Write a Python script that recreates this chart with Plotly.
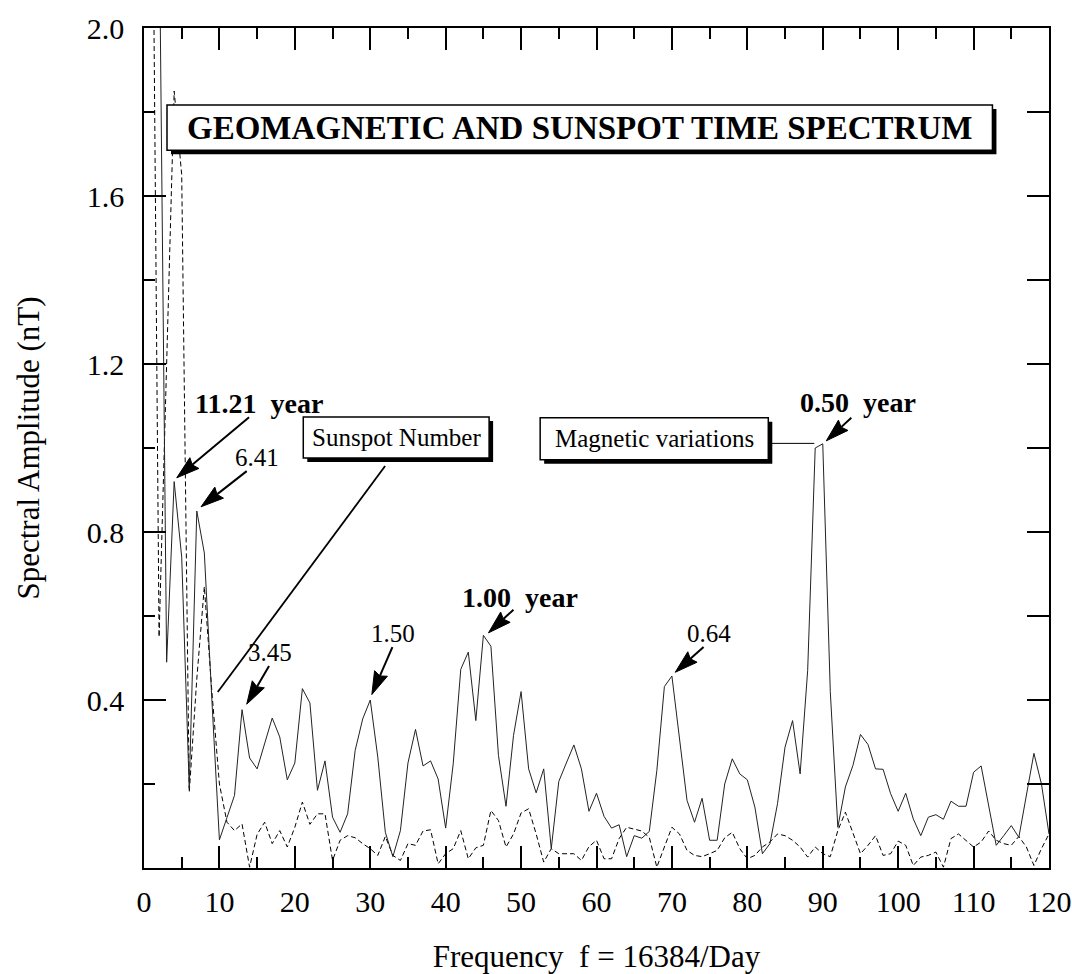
import math
import plotly.graph_objects as go

# Frequency index (f = 16384 / period in days)
freq = list(range(1, 121))

# Spectral amplitude of the magnetic variations (nT)
magnetic = [
    2.60, 2.30, 0.49, 0.92, 0.74, 0.19, 0.85, 0.75, 0.40, 0.067,
    0.12, 0.173, 0.377, 0.262, 0.236, 0.296, 0.357, 0.312, 0.21, 0.25,
    0.427, 0.393, 0.185, 0.255, 0.121, 0.085, 0.129, 0.28, 0.355, 0.40,
    0.264, 0.085, 0.027, 0.089, 0.25, 0.33, 0.243, 0.255, 0.212, 0.095,
    0.248, 0.473, 0.514, 0.351, 0.554, 0.528, 0.268, 0.147, 0.316, 0.42,
    0.236, 0.179, 0.236, 0.046, 0.206, 0.25, 0.293, 0.236, 0.135, 0.178,
    0.123, 0.095, 0.103, 0.027, 0.077, 0.071, 0.087, 0.232, 0.432, 0.457,
    0.312, 0.161, 0.109, 0.166, 0.066, 0.066, 0.20, 0.26, 0.224, 0.21,
    0.145, 0.034, 0.058, 0.153, 0.288, 0.351, 0.224, 0.47, 1.00, 1.01,
    0.42, 0.097, 0.193, 0.244, 0.318, 0.294, 0.236, 0.235, 0.177, 0.135,
    0.178, 0.117, 0.077, 0.121, 0.127, 0.116, 0.159, 0.147, 0.147, 0.228,
    0.243, 0.147, 0.054, 0.077, 0.101, 0.073, 0.177, 0.273, 0.20, 0.081,
]

# Spectral amplitude of the sunspot number (scaled)
sunspot = [
    2.70, 0.55, 1.20, 1.85, 1.65, 0.18, 0.45, 0.67, 0.42, 0.20,
    0.109, 0.089, 0.105, 0.002, 0.08, 0.109, 0.058, 0.089, 0.05, 0.097,
    0.157, 0.104, 0.129, 0.129, 0.018, 0.066, 0.077, 0.072, 0.058, 0.046,
    0.03, 0.075, 0.03, 0.018, 0.058, 0.054, 0.088, 0.091, 0.01, 0.034,
    0.046, 0.089, 0.022, 0.048, 0.054, 0.137, 0.113, 0.05, 0.081, 0.131,
    0.141, 0.081, 0.014, 0.046, 0.034, 0.034, 0.034, 0.018, 0.051, 0.066,
    0.022, 0.022, 0.07, 0.097, 0.093, 0.088, 0.073, 0.002, 0.05, 0.097,
    0.081, 0.042, 0.03, 0.027, 0.034, 0.042, 0.072, 0.085, 0.046, 0.022,
    0.03, 0.05, 0.062, 0.081, 0.077, 0.066, 0.05, 0.026, 0.05, 0.034,
    0.027, 0.089, 0.133, 0.081, 0.034, 0.054, 0.077, 0.03, 0.034, 0.064,
    0.054, 0.006, 0.026, 0.03, 0.038, 0.002, 0.07, 0.081, 0.066, 0.05,
    0.062, 0.088, 0.066, 0.058, 0.054, 0.075, 0.05, 0.006, 0.046, 0.081,
]

x_ticks = list(range(0, 121, 10))
y_ticks = [0.4, 0.8, 1.2, 1.6, 2.0]
y_ticktext = ["0.4", "0.8", "1.2", "1.6", "2.0"]

FONT = "Liberation Serif, Times New Roman, serif"
W, H = 1072, 974
M_L, M_R, M_T, M_B = 144, 23, 28, 106
X_RANGE = (0, 120)
Y_RANGE = (0, 2.0)
SX = (W - M_L - M_R) / (X_RANGE[1] - X_RANGE[0])   # px per frequency unit
SY = (H - M_T - M_B) / (Y_RANGE[1] - Y_RANGE[0])   # px per nT

fig = go.Figure()

fig.add_trace(go.Scatter(
    x=freq, y=sunspot, mode="lines", name="Sunspot Number",
    line=dict(color="black", width=1, dash="5px,3px"),
))
fig.add_trace(go.Scatter(
    x=freq, y=magnetic, mode="lines", name="Magnetic variations",
    line=dict(color="#222222", width=1),
))
# empty trace so the mirrored top/right axes get drawn
fig.add_trace(go.Scatter(x=[], y=[], xaxis="x2", yaxis="y2", showlegend=False))

shapes = []
annotations = []


def add_arrow(tail, tip, head_len=23, head_half=7):
    """Shaft plus a filled arrowhead, built in pixel space and mapped to data units."""
    tx, ty = tail[0] * SX, tail[1] * SY
    px, py = tip[0] * SX, tip[1] * SY
    dx, dy = px - tx, py - ty
    n = math.hypot(dx, dy)
    ux, uy = dx / n, dy / n
    vx, vy = -uy, ux
    bx, by = px - ux * head_len, py - uy * head_len
    ix, iy = px - ux * head_len * 0.88, py - uy * head_len * 0.88
    pts = [
        (px, py),
        (bx + vx * head_half, by + vy * head_half),
        (ix, iy),
        (bx - vx * head_half, by - vy * head_half),
    ]
    path = "M " + " L ".join(f"{a / SX:.4f},{b / SY:.5f}" for a, b in pts) + " Z"
    shapes.append(dict(type="line", xref="x", yref="y",
                       x0=tail[0], y0=tail[1], x1=ix / SX, y1=iy / SY,
                       line=dict(color="black", width=2)))
    shapes.append(dict(type="path", xref="x", yref="y", path=path,
                       fillcolor="black", line=dict(color="black", width=1)))


def add_box(x0, x1, y0, y1, text, size, bold=False, shadow_px=4):
    sdx, sdy = shadow_px / SX, shadow_px / SY
    shapes.append(dict(type="rect", xref="x", yref="y",
                       x0=x0 + sdx, x1=x1 + sdx, y0=y0 - sdy, y1=y1 - sdy,
                       fillcolor="black", line=dict(width=0)))
    shapes.append(dict(type="rect", xref="x", yref="y",
                       x0=x0, x1=x1, y0=y0, y1=y1,
                       fillcolor="white", line=dict(color="black", width=1.5)))
    label = f"<b>{text}</b>" if bold else text
    annotations.append(dict(x=(x0 + x1) / 2, y=(y0 + y1) / 2, xref="x", yref="y",
                            text=label, showarrow=False,
                            font=dict(family=FONT, size=size, color="black")))


def add_label(x, y, text, size, bold=False):
    label = f"<b>{text}</b>" if bold else text
    annotations.append(dict(x=x, y=y, xref="x", yref="y", text=label, showarrow=False,
                            font=dict(family=FONT, size=size, color="black")))


# title box
add_box(3.05, 112.5, 1.709, 1.8165, "GEOMAGNETIC AND SUNSPOT TIME SPECTRUM", 33, bold=True)

# legend boxes and their leader lines
add_box(21.12, 45.76, 0.976, 1.074, "Sunspot Number", 25)
shapes.append(dict(type="line", xref="x", yref="y", x0=31.97, y0=0.957, x1=9.78, y1=0.419,
                   line=dict(color="black", width=1.8)))
add_box(52.53, 82.78, 0.972, 1.072, "Magnetic variations", 25)
shapes.append(dict(type="line", xref="x", yref="y", x0=82.78, y0=1.011, x1=88.88, y1=1.011,
                   line=dict(color="black", width=1)))

# period labels (years) with arrows
add_label(15.26, 1.107, "11.21&nbsp;&nbsp;year", 28, bold=True)
add_arrow((13.93, 1.073), (4.34, 0.929))
add_label(14.99, 0.978, "6.41", 25)
add_arrow((13.62, 0.945), (7.56, 0.860))
add_label(16.72, 0.513, "3.45", 25)
add_arrow((16.58, 0.481), (13.62, 0.390))
add_label(33.03, 0.559, "1.50", 25)
add_arrow((32.94, 0.526), (30.21, 0.413))
add_label(49.88, 0.644, "1.00&nbsp;&nbsp;year", 28, bold=True)
add_arrow((48.99, 0.615), (45.68, 0.560))
add_label(74.95, 0.559, "0.64", 25)
add_arrow((74.20, 0.526), (70.44, 0.466))
add_label(94.72, 1.109, "0.50&nbsp;&nbsp;year", 28, bold=True)
add_arrow((93.79, 1.072), (90.47, 1.017))

tick_font = dict(family=FONT, size=30, color="black")
axis_common = dict(showgrid=False, zeroline=False, showline=True, linecolor="black",
                   linewidth=1.5, ticks="inside", tickcolor="black", tickwidth=1.5,
                   automargin=False)

fig.update_layout(
    width=W, height=H, autosize=False,
    margin=dict(l=M_L, r=M_R, t=M_T, b=M_B),
    paper_bgcolor="white", plot_bgcolor="white",
    showlegend=False,
    font=dict(family=FONT, color="black"),
    xaxis=dict(range=list(X_RANGE), tickmode="array", tickvals=x_ticks,
               ticklen=22, tickfont=tick_font, ticklabelstandoff=6,
               minor=dict(dtick=5, tick0=0, ticklen=11, ticks="inside",
                          tickcolor="black", tickwidth=1.5),
               title=dict(text="Frequency&nbsp;&nbsp;f = 16384/Day",
                          font=dict(family=FONT, size=31, color="black"), standoff=38),
               **axis_common),
    yaxis=dict(range=list(Y_RANGE), tickmode="array", tickvals=y_ticks, ticktext=y_ticktext,
               ticklen=22, tickfont=tick_font, ticklabelstandoff=12,
               minor=dict(dtick=0.2, tick0=0, ticklen=11, ticks="inside",
                          tickcolor="black", tickwidth=1.5),
               title=dict(text="Spectral Amplitude (nT)",
                          font=dict(family=FONT, size=31, color="black"), standoff=38),
               **axis_common),
    xaxis2=dict(range=list(X_RANGE), overlaying="x", side="top", anchor="y2",
                tickmode="linear", tick0=0, dtick=10, ticklen=22, showticklabels=False,
                minor=dict(dtick=5, tick0=0, ticklen=11, ticks="inside",
                           tickcolor="black", tickwidth=1.5),
                **axis_common),
    yaxis2=dict(range=list(Y_RANGE), overlaying="y", side="right", anchor="x2",
                tickmode="linear", tick0=0, dtick=0.2, ticklen=22, showticklabels=False,
                **axis_common),
    shapes=shapes,
    annotations=annotations,
)

fig.write_html("out.html")
